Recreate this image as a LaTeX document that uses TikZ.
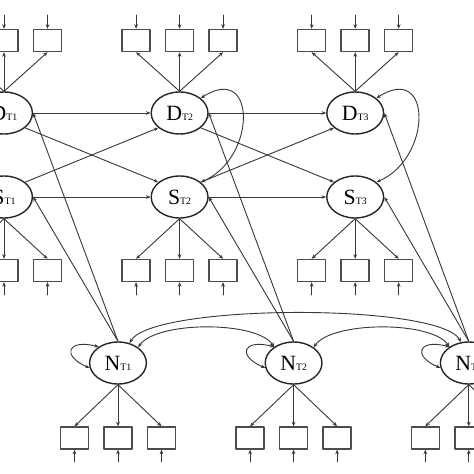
\documentclass[tikz,border=0pt]{standalone}
\usepackage{fontspec}
\setmainfont{Liberation Serif}
\usetikzlibrary{arrows.meta,shapes.geometric}

\newcommand{\latname}[2]{{\fontsize{15.5}{16}\selectfont #1}{\fontsize{7}{8}\selectfont #2}}

\begin{document}
\begin{tikzpicture}[scale=1,>={Stealth[length=3.2pt,width=2.6pt]}, line join=round, line cap=round,
	lat/.style={ellipse, draw=black!85, line width=1pt, minimum width=1.42cm, minimum height=1.05cm, inner sep=0pt, fill=white},
	obs/.style={rectangle, draw=black!70, line width=1pt, minimum width=0.7cm, minimum height=0.55cm, inner sep=0pt},
	arr/.style={->, draw=black!78, line width=0.65pt}]
	\clip (0,0) rectangle (11.85,11.85);
	
	% [Khung xương - Layer 1]
	\foreach \t/\x in {1/0.1,2/4.49,3/8.88}{
		\node[lat] (D\t) at (\x,9.025) {\latname{D}{T\t}};
		\node[lat] (S\t) at (\x,6.925) {\latname{S}{T\t}};
	}
	\foreach \t/\x in {1/2.95,2/7.34,3/11.72}{
		\node[lat] (N\t) at (\x,2.775) {\latname{N}{T\t}};
	}
	
	% [Hộp quan sát & sai số - Layer 2]
	\foreach \t/\x in {1/0.1,2/4.49,3/8.88}{
		\foreach \k/\dx in {1/-1.0875,2/0,3/1.0875}{
			\node[obs] (bD\t\k) at (\x+\dx,10.8375) {};
			\node[obs] (bS\t\k) at (\x+\dx,5.0875) {};
			\coordinate (eD\t\k) at (\x+\dx,11.475);
			\coordinate (eS\t\k) at (\x+\dx,4.475);
			\draw[arr] (eD\t\k) -- (bD\t\k);
			\draw[arr] (eS\t\k) -- (bS\t\k);
			\draw[arr] (D\t.north) -- (bD\t\k.south);
			\draw[arr] (S\t.south) -- (bS\t\k.north);
		}
	}
	\foreach \t/\x in {1/2.95,2/7.34,3/11.72}{
		\foreach \k/\dx in {1/-1.0875,2/0,3/1.0875}{
			\node[obs] (bN\t\k) at (\x+\dx,0.9) {};
			\coordinate (eN\t\k) at (\x+\dx,0.3);
			\draw[arr] (eN\t\k) -- (bN\t\k);
			\draw[arr] (N\t.south) -- (bN\t\k.north);
		}
	}
	
	% [Đường hồi quy chéo - Layer 3]
	\foreach \a/\b in {1/2,2/3}{
		\draw[arr] (D\a.east) -- (D\b.west);
		\draw[arr] (S\a.east) -- (S\b.west);
		\draw[arr] (D\a.-35) -- (S\b.145);
		\draw[arr] (S\a.35) -- (D\b.-145);
	}
	\foreach \t in {1,2,3}{
		\draw[arr] (N\t.north) -- (D\t.east);
		\draw[arr] (N\t.north) -- (S\t.east);
	}
	
	% [Add-ons: Hiệp phương sai - Layer 4]
	\foreach \t in {2,3}{
		\draw[arr,<->] (D\t.35) .. controls +(1.4,0.9) and +(1.4,0.6) .. (S\t.35);
	}
	\foreach \t in {1,2,3}{
		\draw[arr,<->] (N\t.140) .. controls +(-0.8,0.2) and +(-0.7,0.3) .. (N\t.190);
	}
	\draw[arr,<->] (N1.38) to[out=55,in=125,looseness=0.6] (N2.140);
	\draw[arr,<->] (N2.38) to[out=55,in=125,looseness=0.6] (N3.140);
	\draw[arr,<->] (N1.60) to[out=60,in=120,looseness=0.35] (N3.110);
\end{tikzpicture}
\end{document}
